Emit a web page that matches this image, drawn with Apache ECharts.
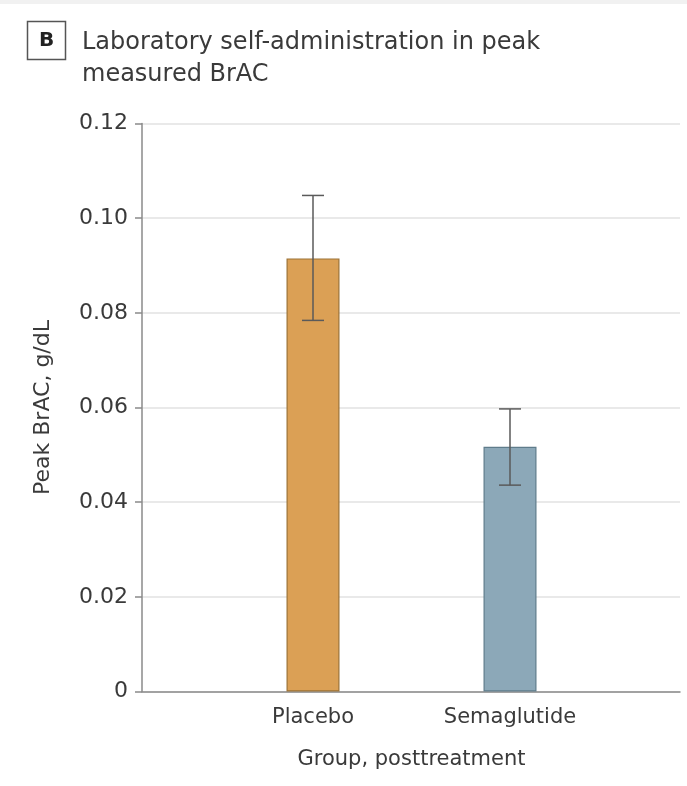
<!DOCTYPE html>
<html>
<head>
<meta charset="utf-8">
<script src="https://cdn.jsdelivr.net/npm/echarts@6/dist/echarts.min.js"></script>
<style>
  html, body { margin: 0; padding: 0; background: #fff; }
  #chart { width: 687px; height: 786px; }
</style>
</head>
<body>
<div id="chart"></div>
<script>
// Peak breath alcohol concentration by treatment group
const groups = ['Placebo', 'Semaglutide'];
const peakBrAC = [0.0915, 0.0517];
const ciLow = [0.0784, 0.0436];
const ciHigh = [0.1048, 0.0597];
const barColors = ['#DBA055', '#8CA8B8'];
const barBorders = ['#9C7236', '#5F7C8B'];
const yTicks = [0, 0.02, 0.04, 0.06, 0.08, 0.10, 0.12];

const FONT = 'DejaVu Sans';
const TEXT = '#3a3a3a';

const chart = echarts.init(document.getElementById('chart'), null, { renderer: 'canvas' });

const plotTop = 123.5, plotHeight = 568;

chart.setOption({
  animation: false,
  backgroundColor: '#fff',
  textStyle: { fontFamily: FONT },
  graphic: [
    { type: 'rect', shape: { x: 0, y: 0, width: 687, height: 4 },
      style: { fill: '#f1f1f1' } },
    { type: 'rect', shape: { x: 27.5, y: 21.5, width: 38, height: 38 },
      style: { fill: '#fff', stroke: '#555', lineWidth: 1.5 } },
    { type: 'text', x: 46.5, y: 40.5,
      style: { text: 'B', font: 'bold 20px ' + FONT, fill: '#222',
               align: 'center', verticalAlign: 'middle' } },
    { type: 'text', left: 82, top: 27,
      style: { text: 'Laboratory self-administration in peak\nmeasured BrAC',
               font: '24px ' + FONT, fill: TEXT, lineHeight: 32 } }
  ],
  grid: [
    { left: 142, top: plotTop, width: 538, height: plotHeight },
    { left: 214.5, top: plotTop, width: 394, height: plotHeight }
  ],
  xAxis: [
    { gridIndex: 0, type: 'value', min: 0, max: 1,
      axisLine: { show: true, lineStyle: { color: '#8a8a8a', width: 1.5 } },
      axisTick: { show: false }, axisLabel: { show: false }, splitLine: { show: false } },
    { gridIndex: 1, type: 'category', data: groups,
      axisLine: { show: false }, axisTick: { show: false },
      axisLabel: { margin: 16, fontSize: 21, color: TEXT, fontFamily: FONT },
      name: 'Group, posttreatment', nameLocation: 'middle', nameGap: 58,
      nameTextStyle: { fontSize: 21, color: TEXT, fontFamily: FONT } }
  ],
  yAxis: [
    { gridIndex: 0, type: 'value', min: 0, max: 0.12, interval: 0.02,
      axisLine: { show: true, lineStyle: { color: '#8a8a8a', width: 1.5 } },
      axisTick: { show: true, length: 7, lineStyle: { color: '#8a8a8a', width: 1.5 } },
      axisLabel: { margin: 14, fontSize: 22, color: TEXT, fontFamily: FONT,
                   formatter: v => (v === 0 ? '0' : v.toFixed(2)) },
      splitLine: { show: true, lineStyle: { color: '#e2e2e2', width: 1.5 } },
      name: 'Peak BrAC, g/dL', nameLocation: 'middle', nameGap: 88,
      nameTextStyle: { fontSize: 22, color: TEXT, fontFamily: FONT } },
    { gridIndex: 1, type: 'value', min: 0, max: 0.12, interval: 0.02, show: false }
  ],
  series: [
    {
      type: 'bar', xAxisIndex: 1, yAxisIndex: 1, barWidth: 53,
      data: peakBrAC.map((v, i) => ({
        value: v,
        itemStyle: { color: barColors[i], borderColor: barBorders[i], borderWidth: 1.2 }
      }))
    },
    {
      type: 'custom', xAxisIndex: 1, yAxisIndex: 1, z: 5,
      data: groups.map((g, i) => [i, ciLow[i], ciHigh[i]]),
      renderItem: (params, api) => {
        const lo = api.coord([api.value(0), api.value(1)]);
        const hi = api.coord([api.value(0), api.value(2)]);
        const half = 11;
        const style = { stroke: '#5a5a5a', lineWidth: 1.5 };
        return {
          type: 'group',
          children: [
            { type: 'line', shape: { x1: hi[0], y1: hi[1], x2: lo[0], y2: lo[1] }, style },
            { type: 'line', shape: { x1: hi[0] - half, y1: hi[1], x2: hi[0] + half, y2: hi[1] }, style },
            { type: 'line', shape: { x1: lo[0] - half, y1: lo[1], x2: lo[0] + half, y2: lo[1] }, style }
          ]
        };
      }
    }
  ]
});
</script>
</body>
</html>
